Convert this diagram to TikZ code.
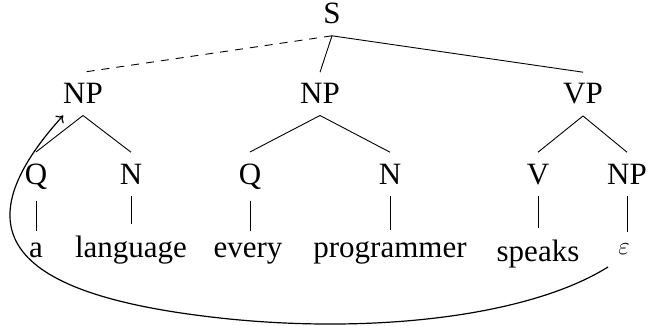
\documentclass[tikz,border=0pt]{standalone}
\usepackage{fontspec}
\setmainfont{Liberation Serif}
\usetikzlibrary{calc,arrows.meta}
\begin{document}
\begin{tikzpicture}[x=1pt,y=-1pt,
  lab/.style={anchor=base,inner sep=0pt,outer xsep=0pt,outer ysep=11.5pt,font=\fontsize{31}{37}\selectfont},
  edge/.style={line width=0.9pt},
  dashedge/.style={line width=0.9pt,dash pattern=on 8pt off 7pt},
  movecurve/.style={line width=1.2pt,-{To[length=6pt,width=11pt]}}]
\useasboundingbox (0,0) rectangle (650,326);
\node[lab] (s) at (332,24) {S};
\node[lab] (np1) at (83,104) {NP};
\node[lab] (np2) at (320,104) {NP};
\node[lab] (vp) at (583,104) {VP};
\node[lab] (q1) at (36,184) {Q};
\node[lab] (n1) at (131,184) {N};
\node[lab] (q2) at (250,184) {Q};
\node[lab] (n2) at (390,184) {N};
\node[lab] (v) at (538,184) {V};
\node[lab] (np3) at (627,184) {NP};
\node[lab] (w1) at (36,257) {a};
\node[lab] (w2) at (131,257) {language};
\node[lab] (w3) at (248,257) {every};
\node[lab] (w4) at (390,257) {programmer};
\node[lab] (w5) at (538,261) {speaks};
\node[lab] (w6) at (624,254) {$\varepsilon$};
\draw[dashedge] (s.south) -- (np1.north);
\draw[edge] (s.south) -- (np2.north);
\draw[edge] (s.south) -- (vp.north);
\draw[edge] (np1.south) -- (q1.north);
\draw[edge] (np1.south) -- (n1.north);
\draw[edge] (np2.south) -- (q2.north);
\draw[edge] (np2.south) -- (n2.north);
\draw[edge] (vp.south) -- (v.north);
\draw[edge] (vp.south) -- (np3.north);
\draw[edge] (q1.south) -- (w1.north);
\draw[edge] (n1.south) -- (w2.north);
\draw[edge] (q2.south) -- (q2.south |- w3.north);
\draw[edge] (n2.south) -- (w4.north);
\draw[edge] (v.south) -- (w5.north);
\draw[edge] (np3.south) -- (np3.south |- w6.north);
\coordinate (mid) at (220,318);
\draw[movecurve] ($(w6.south)+(-16,1.5)$) .. controls +(-80,50) and +(150,16.5) .. (mid) .. controls +(-200,-22) and +(-110.6,122) .. (np1.south west);
\end{tikzpicture}
\end{document}
